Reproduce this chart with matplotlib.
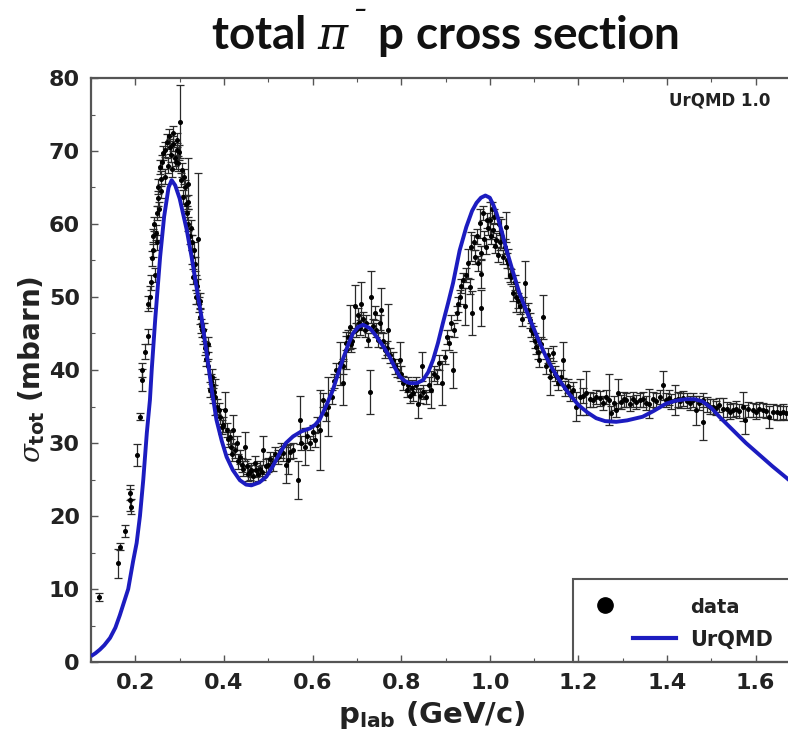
import matplotlib
matplotlib.use("Agg")
import matplotlib.pyplot as plt
from matplotlib.patches import Rectangle
from matplotlib.lines import Line2D

# ---------------- data ----------------
data_p = [
    0.119, 0.162, 0.165, 0.177, 0.188, 0.189, 0.190, 0.204, 0.210, 0.214,
    0.216, 0.222, 0.229, 0.229, 0.233, 0.237, 0.241, 0.244, 0.248, 0.250,
    0.252, 0.254, 0.256, 0.259, 0.263, 0.266, 0.271, 0.274, 0.278, 0.282,
    0.286, 0.289, 0.293, 0.297, 0.301, 0.303, 0.305, 0.308, 0.312, 0.316,
    0.319, 0.320, 0.323, 0.327, 0.329, 0.331, 0.334, 0.338, 0.341, 0.343,
    0.346, 0.350, 0.353, 0.357, 0.361, 0.365, 0.368, 0.372, 0.376, 0.380,
    0.384, 0.391, 0.395, 0.402, 0.406, 0.410, 0.415, 0.421, 0.425, 0.429,
    0.432, 0.436, 0.440, 0.447, 0.451, 0.455, 0.462, 0.466, 0.470, 0.477,
    0.482, 0.489, 0.496, 0.503, 0.511, 0.516, 0.522, 0.534, 0.540, 0.545,
    0.550, 0.556, 0.567, 0.571, 0.575, 0.582, 0.588, 0.594, 0.600, 0.605,
    0.610, 0.616, 0.624, 0.630, 0.635, 0.643, 0.648, 0.654, 0.661, 0.669,
    0.669, 0.676, 0.676, 0.684, 0.690, 0.695, 0.699, 0.705, 0.710, 0.714,
    0.718, 0.725, 0.729, 0.733, 0.736, 0.740, 0.748, 0.752, 0.755, 0.760,
    0.763, 0.770, 0.775, 0.782, 0.790, 0.797, 0.804, 0.812, 0.820, 0.827,
    0.833, 0.838, 0.846, 0.850, 0.857, 0.862, 0.868, 0.874, 0.880, 0.885,
    0.891, 0.898, 0.904, 0.909, 0.913, 0.917, 0.920, 0.925, 0.928, 0.932,
    0.936, 0.940, 0.944, 0.951, 0.955, 0.958, 0.960, 0.966, 0.970, 0.974,
    0.977, 0.981, 0.981, 0.985, 0.988, 0.992, 0.996, 1.000, 1.004, 1.007,
    1.011, 1.015, 1.020, 1.026, 1.030, 1.034, 1.037, 1.041, 1.045, 1.048,
    1.052, 1.056, 1.060, 1.067, 1.072, 1.079, 1.086, 1.090, 1.097, 1.101,
    1.105, 1.112, 1.120, 1.127, 1.131, 1.135, 1.142, 1.148, 1.154, 1.160,
    1.165, 1.170, 1.176, 1.182, 1.188, 1.195, 1.203, 1.210, 1.218, 1.226,
    1.233, 1.240, 1.248, 1.256, 1.262, 1.270, 1.274, 1.280, 1.285, 1.289,
    1.296, 1.302, 1.308, 1.316, 1.324, 1.330, 1.338, 1.345, 1.352, 1.360,
    1.368, 1.375, 1.383, 1.390, 1.398, 1.405, 1.410, 1.417, 1.425, 1.430,
    1.436, 1.445, 1.452, 1.458, 1.466, 1.473, 1.481, 1.482, 1.490, 1.497,
    1.503, 1.511, 1.518, 1.526, 1.535, 1.541, 1.548, 1.556, 1.563, 1.571,
    1.575, 1.582, 1.593, 1.601, 1.608, 1.616, 1.624, 1.631, 1.640, 1.647,
    1.654, 1.662, 1.669,
    0.235, 0.239, 0.243, 0.246, 0.251, 0.258, 0.261, 0.268, 0.276, 0.280,
    0.284, 0.291, 0.295, 0.299, 0.310, 0.314, 0.318, 0.325, 0.333, 0.336,
    0.340, 0.345, 0.348, 0.355, 0.359, 0.363, 0.370, 0.374, 0.378, 0.388,
    0.398, 0.413, 0.418, 0.443, 0.458, 0.473, 0.486, 0.500, 0.528,
    0.680, 0.687, 0.702, 0.708, 0.721, 0.744, 0.767, 0.786, 0.800, 0.816,
    0.824, 0.842,
    0.947, 0.964, 0.979, 0.994, 1.002, 1.009, 1.018, 1.023, 1.039, 1.063,
    1.075, 1.093, 1.109, 1.116, 1.138, 1.151,
]
data_sigma = [
    8.9, 13.5, 15.8, 17.9, 22.2, 23.2, 21.3, 28.4, 33.6, 38.6,
    40.0, 42.5, 44.6, 49.1, 50.0, 55.3, 58.3, 53.0, 61.5, 57.5,
    65.1, 62.0, 67.8, 64.5, 69.7, 66.5, 71.3, 68.0, 70.6, 67.5,
    72.4, 69.0, 70.1, 68.3, 74.0, 66.0, 67.4, 63.7, 65.0, 61.5,
    65.5, 60.0, 58.3, 55.5, 57.5, 52.8, 54.5, 50.0, 58.0, 49.0,
    47.3, 45.5, 44.6, 43.0, 42.3, 40.5, 37.3, 39.1, 36.5, 36.3,
    35.0, 33.6, 32.2, 34.5, 31.8, 30.5, 29.5, 31.8, 29.0, 30.0,
    27.5, 28.1, 27.0, 29.5, 26.8, 25.8, 26.3, 25.5, 27.2, 25.8,
    26.5, 29.0, 26.8, 27.8, 27.2, 28.5, 28.1, 28.6, 27.0, 27.7,
    28.8, 29.0, 24.9, 33.2, 30.0, 29.5, 31.0, 30.0, 31.5, 30.4,
    32.5, 31.8, 35.9, 34.0, 35.0, 36.3, 38.5, 40.0, 40.9, 38.2,
    40.5, 43.7, 42.7, 45.9, 44.0, 48.7, 45.5, 46.5, 49.1, 47.0,
    45.5, 44.1, 37.0, 50.0, 46.0, 47.8, 44.1, 46.5, 48.2, 44.0,
    42.7, 45.5, 42.0, 41.4, 40.0, 41.4, 38.2, 37.3, 36.5, 36.8,
    38.0, 35.4, 40.5, 37.0, 36.3, 38.0, 37.3, 39.5, 39.1, 41.0,
    38.2, 41.8, 44.5, 43.7, 46.5, 40.0, 45.5, 47.8, 49.0, 50.0,
    51.5, 52.3, 48.7, 54.6, 51.4, 56.9, 47.8, 55.5, 58.3, 54.6,
    60.1, 53.2, 48.5, 61.5, 58.0, 56.9, 59.5, 60.5, 62.0, 59.2,
    57.0, 57.8, 60.0, 58.7, 55.5, 56.9, 59.6, 54.6, 53.0, 52.8,
    50.5, 52.0, 50.0, 48.7, 47.0, 51.9, 48.2, 46.8, 45.0, 44.0,
    43.2, 41.4, 47.3, 40.5, 42.0, 39.1, 42.3, 39.5, 38.2, 39.0,
    41.4, 37.5, 37.8, 36.8, 37.3, 35.0, 36.3, 36.5, 36.8, 36.0,
    35.9, 36.3, 36.1, 35.5, 36.3, 35.9, 34.1, 35.5, 34.5, 36.8,
    35.6, 36.0, 35.9, 35.4, 36.0, 35.6, 35.9, 36.0, 35.5, 35.4,
    36.0, 35.8, 36.3, 37.9, 35.9, 36.2, 35.7, 35.9, 36.0, 35.8,
    36.1, 35.8, 35.5, 35.9, 34.5, 35.5, 35.9, 32.9, 35.3, 35.0,
    35.0, 34.8, 35.2, 34.7, 34.6, 34.3, 34.5, 34.7, 34.4, 35.0,
    33.2, 34.6, 34.5, 34.3, 34.6, 34.5, 34.4, 33.6, 34.3, 34.2,
    34.1, 34.3, 34.1,
    52.0, 56.5, 60.0, 58.8, 63.5, 66.2, 68.5, 70.2, 72.0, 69.5,
    71.0, 68.5, 71.5, 69.8, 66.5, 62.8, 63.0, 59.5, 56.5, 52.0,
    51.5, 49.5, 46.0, 45.5, 41.5, 43.5, 38.5, 38.0, 37.0, 34.5,
    32.5, 30.8, 28.5, 26.5, 26.0, 26.3, 26.0, 27.0, 29.0,
    44.5, 43.5, 47.5, 45.8, 46.5, 45.5, 43.0, 40.5, 39.5, 38.0,
    37.6, 36.5,
    53.0, 57.5, 56.0, 60.5, 58.3, 61.0, 55.8, 57.5, 55.0, 49.5,
    49.0, 45.5, 42.5, 43.5, 40.0, 39.0,
]
data_err = [
    0.5, 2.0, 0.5, 0.8, 1.5, 1.0, 1.0, 1.5, 0.5, 1.5,
    1.0, 1.0, 1.0, 1.0, 1.5, 1.0, 1.0, 1.0, 1.0, 1.0,
    1.0, 1.0, 1.0, 1.0, 1.0, 1.0, 1.0, 1.0, 1.0, 1.0,
    1.0, 1.0, 1.0, 1.0, 5.0, 1.0, 1.0, 1.0, 1.0, 1.0,
    3.5, 1.0, 1.0, 1.0, 1.0, 1.0, 1.0, 1.0, 9.0, 1.0,
    1.0, 1.0, 1.0, 1.0, 1.0, 1.0, 1.0, 1.0, 1.0, 2.4,
    1.0, 1.0, 1.0, 2.5, 1.0, 1.0, 1.0, 2.0, 1.0, 1.0,
    1.0, 1.0, 1.0, 2.0, 1.0, 1.0, 1.0, 1.0, 1.0, 1.0,
    1.0, 2.0, 1.0, 1.0, 1.0, 1.0, 1.0, 1.0, 2.5, 2.0,
    1.0, 1.0, 2.6, 3.3, 1.0, 2.5, 1.0, 1.0, 1.0, 1.0,
    1.0, 5.5, 1.0, 1.0, 4.0, 1.0, 1.0, 1.0, 3.0, 3.0,
    1.0, 1.0, 2.5, 3.0, 1.0, 3.0, 1.0, 1.0, 3.0, 1.0,
    1.0, 1.0, 3.0, 3.5, 1.0, 1.0, 1.0, 1.0, 3.0, 1.0,
    1.0, 3.5, 1.0, 1.0, 1.0, 2.5, 1.0, 1.0, 1.0, 1.0,
    1.0, 2.0, 2.0, 1.0, 1.0, 1.0, 2.5, 1.0, 1.0, 1.0,
    3.0, 1.0, 1.0, 1.0, 1.0, 2.5, 1.0, 1.0, 1.0, 1.0,
    1.0, 1.0, 2.5, 2.0, 1.0, 2.0, 3.0, 1.0, 1.0, 1.0,
    2.0, 2.0, 2.5, 1.0, 1.0, 1.0, 1.0, 2.5, 1.0, 1.0,
    1.0, 1.0, 1.0, 2.0, 1.0, 1.0, 2.0, 2.0, 1.0, 1.0,
    1.0, 1.0, 2.0, 1.0, 1.0, 3.0, 1.0, 1.0, 1.0, 1.0,
    1.0, 1.0, 3.0, 1.0, 1.0, 2.5, 1.0, 1.0, 1.0, 1.0,
    2.5, 1.0, 1.0, 1.0, 1.0, 2.0, 2.5, 1.0, 3.0, 1.0,
    1.0, 1.0, 1.0, 1.0, 1.0, 3.5, 1.0, 1.0, 1.0, 2.0,
    1.0, 1.0, 1.0, 1.0, 1.0, 1.0, 1.0, 1.0, 1.0, 2.0,
    1.0, 1.0, 1.0, 2.0, 1.0, 1.0, 1.0, 2.0, 1.0, 1.0,
    1.0, 1.0, 1.0, 1.0, 2.0, 1.0, 1.0, 2.5, 1.0, 1.0,
    1.0, 1.0, 1.0, 1.5, 1.0, 1.0, 1.0, 1.0, 1.0, 2.0,
    2.0, 1.0, 1.0, 1.0, 1.0, 1.0, 1.0, 1.5, 1.0, 1.0,
    1.0, 1.0, 1.0,
    1.0, 1.0, 1.0, 1.0, 1.0, 1.0, 1.0, 1.0, 1.0, 1.0,
    1.0, 1.0, 1.0, 1.0, 1.0, 1.0, 1.0, 1.0, 1.0, 1.0,
    1.0, 1.0, 1.0, 1.0, 1.0, 1.0, 1.0, 1.0, 1.0, 1.0,
    1.0, 1.0, 1.0, 1.0, 1.0, 1.0, 1.0, 1.0, 1.0,
    1.0, 1.0, 1.0, 1.0, 1.0, 1.0, 1.0, 1.0, 1.0, 1.0,
    1.0, 1.0,
    1.0, 1.0, 1.0, 1.0, 1.0, 1.0, 1.0, 1.0, 1.0, 1.0,
    1.0, 1.0, 1.0, 1.0, 1.0, 1.0,
]

urqmd_p = [
    0.100, 0.110, 0.120, 0.130, 0.143, 0.155, 0.165, 0.175, 0.184, 0.195,
    0.203, 0.2105, 0.218, 0.226, 0.233, 0.237, 0.245, 0.256, 0.265, 0.275,
    0.282, 0.290, 0.300, 0.316, 0.327, 0.338, 0.350, 0.361, 0.372, 0.383,
    0.395, 0.406, 0.420, 0.436, 0.450, 0.462, 0.480, 0.496, 0.510, 0.526,
    0.540, 0.556, 0.575, 0.594, 0.606, 0.616, 0.630, 0.646, 0.657, 0.668,
    0.680, 0.691, 0.703, 0.714, 0.730, 0.744, 0.760, 0.774, 0.786, 0.797,
    0.808, 0.819, 0.835, 0.849, 0.861, 0.872, 0.883, 0.894, 0.906, 0.917,
    0.932, 0.947, 0.960, 0.970, 0.980, 0.990, 1.000, 1.008, 1.015, 1.026,
    1.037, 1.050, 1.067, 1.082, 1.097, 1.112, 1.127, 1.142, 1.157, 1.178,
    1.200, 1.220, 1.240, 1.260, 1.285, 1.310, 1.345, 1.370, 1.398, 1.420,
    1.443, 1.462, 1.480, 1.500, 1.518, 1.548, 1.578, 1.608, 1.638, 1.670,
    1.700,
]
urqmd_sigma = [
    0.8, 1.2, 1.7, 2.3, 3.3, 4.7, 6.4, 8.3, 10.0, 13.8,
    16.3, 20.0, 25.0, 31.4, 35.9, 40.0, 47.0, 55.5, 61.0, 65.0,
    66.0, 65.3, 63.5, 59.2, 55.5, 51.4, 47.0, 42.3, 37.5, 33.2,
    30.3, 28.1, 26.3, 24.9, 24.3, 24.2, 24.6, 25.4, 26.8, 28.6,
    30.0, 30.9, 31.6, 32.0, 32.5, 33.2, 35.0, 37.3, 39.4, 41.4,
    43.4, 45.0, 45.9, 46.2, 45.7, 44.6, 43.2, 41.8, 40.3, 39.1,
    38.5, 38.2, 38.2, 38.6, 39.7, 41.4, 43.7, 46.4, 49.2, 51.9,
    56.4, 59.6, 61.8, 62.9, 63.6, 63.9, 63.6, 62.6, 61.5, 59.2,
    56.6, 53.9, 50.5, 48.2, 46.0, 43.8, 41.8, 40.1, 38.6, 36.8,
    35.2, 34.2, 33.4, 33.0, 32.9, 33.1, 33.6, 34.4, 35.4, 35.8,
    36.0, 36.0, 35.7, 34.8, 33.6, 31.8, 30.0, 28.4, 26.8, 25.2,
    23.6,
]

x_ticks = [0.2, 0.4, 0.6, 0.8, 1.0, 1.2, 1.4, 1.6]
y_ticks = [0, 10, 20, 30, 40, 50, 60, 70, 80]

# ---------------- style ----------------
plt.rcParams['mathtext.fontset'] = 'custom'
plt.rcParams['mathtext.rm'] = 'DejaVu Sans:bold'
plt.rcParams['mathtext.it'] = 'DejaVu Serif:italic'
plt.rcParams['mathtext.bf'] = 'DejaVu Sans:bold'

W, H = 788, 735
fig = plt.figure(figsize=(W / 100, H / 100), dpi=100)
ax_left, ax_right, ax_top, ax_bot = 91, 800, 78, 662
ax = fig.add_axes([ax_left / W, 1 - ax_bot / H, (ax_right - ax_left) / W, (ax_bot - ax_top) / H])

blue = '#1c1cc0'
ax.errorbar(data_p, data_sigma, yerr=data_err, fmt='o', color='black', ms=2.6,
            ecolor='#2a2a2a', elinewidth=0.9, capsize=2.8, capthick=0.9, zorder=2)
ax.plot(urqmd_p, urqmd_sigma, color=blue, lw=2.8, zorder=3,
        solid_joinstyle='round', solid_capstyle='butt')

ax.set_xlim(0.1, 1.7)
ax.set_ylim(0, 80)
ax.set_xticks(x_ticks)
ax.set_xticklabels([f"{t:.1f}" for t in x_ticks])
ax.set_yticks(y_ticks)
ax.set_xticks([0.1 + 0.2 * i for i in range(9)], minor=True)
ax.set_yticks([5 + 10 * i for i in range(8)], minor=True)
ax.tick_params(which='both', direction='in', top=True, right=False, colors='#555555',
               labelcolor='#222222')
ax.tick_params(which='major', length=5, width=1.0, labelsize=16, pad=8)
ax.tick_params(which='minor', length=3, width=0.8)
for lab in ax.get_xticklabels() + ax.get_yticklabels():
    lab.set_fontweight('bold')
for side in ['left', 'bottom', 'top']:
    ax.spines[side].set_color('#555555')
    ax.spines[side].set_linewidth(1.6)
ax.spines['right'].set_visible(False)

# title: "total π⁻ p cross section" (small raised dash after π)
fig.text(0.565, 0.955, "total $\\pi^{\u02c9}$ p cross section", ha='center', va='center',
         fontsize=33, fontweight='bold', family='Lato', color='#111111')
fig.text(0.040, 0.497, r"$\sigma_{\mathrm{tot}}$ (mbarn)", rotation=90, ha='center', va='center',
         fontsize=20, fontweight='bold', color='#222222')
fig.text(0.548, 0.027, r"p$_{\mathrm{lab}}$ (GeV/c)", ha='center', va='center',
         fontsize=21, fontweight='bold', color='#222222')
ax.text(0.958, 0.962, "UrQMD 1.0", transform=ax.transAxes, ha='right', va='center',
        fontsize=12, fontweight='bold', color='#222222')

# legend box
ax.add_patch(Rectangle((0.680, 0.0), 0.4, 0.142, transform=ax.transAxes, fill=False,
                       edgecolor='#555555', lw=1.5, clip_on=False, zorder=4))
ax.add_line(Line2D([0.725], [0.0976], transform=ax.transAxes, marker='o', ms=11,
                   color='black', ls='none', zorder=5))
ax.add_line(Line2D([0.764, 0.825], [0.041, 0.041], transform=ax.transAxes, color=blue,
                   lw=3, zorder=5))
ax.text(0.845, 0.094, "data", transform=ax.transAxes, ha='left', va='center',
        fontsize=14, fontweight='bold', color='#222222')
ax.text(0.845, 0.038, "UrQMD", transform=ax.transAxes, ha='left', va='center',
        fontsize=15, fontweight='bold', color='#222222')

fig.savefig("out.png", dpi=100)
